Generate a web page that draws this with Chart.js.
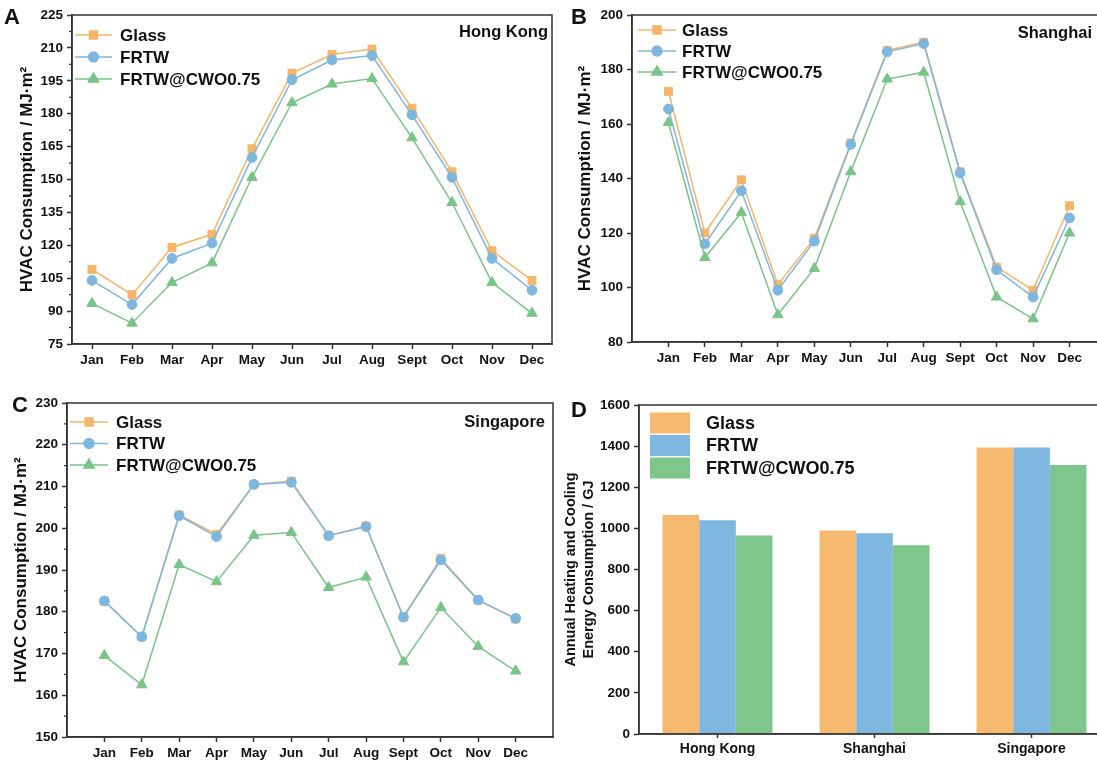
<!DOCTYPE html>
<html>
<head>
<meta charset="utf-8">
<script src="https://cdn.jsdelivr.net/npm/chart.js@4.4.1/dist/chart.umd.min.js"></script>
<style>
body{margin:0;background:#fff;width:1097px;height:763px;overflow:hidden;position:relative;font-family:"Liberation Sans",Arial,sans-serif;}
.panel{position:absolute;}
.lbl{position:absolute;font-weight:bold;font-size:22px;color:#111;line-height:1;}
</style>
</head>
<body>
<div class="panel" style="left:0;top:0;width:560px;height:380px"><canvas id="gA"></canvas></div>
<div class="panel" style="left:560px;top:0;width:560px;height:380px"><canvas id="gB"></canvas></div>
<div class="panel" style="left:0;top:380px;width:560px;height:383px"><canvas id="gC"></canvas></div>
<div class="panel" style="left:560px;top:380px;width:560px;height:383px"><canvas id="gD"></canvas></div>
<div class="lbl" style="left:4px;top:6px">A</div>
<div class="lbl" style="left:571px;top:6px">B</div>
<div class="lbl" style="left:12px;top:394px">C</div>
<div class="lbl" style="left:571px;top:399px">D</div>
<script>
// months / series
const months = ['Jan','Feb','Mar','Apr','May','Jun','Jul','Aug','Sept','Oct','Nov','Dec'];
const seriesNames = ['Glass','FRTW','FRTW@CWO0.75'];

const hkGlass = [109,97.5,119,125,164,198.5,207,209.5,182.5,153.5,117.5,104];
const hkFrtw  = [104,93,114,121,160,195.5,204.5,206.5,179.5,151,114,99.5];
const hkCwo   = [93.5,84.5,103,112,151,185,193.5,196,169,139.5,103,89];

const shGlass = [172,120,139.5,101,118,153,187,190,142.5,107.5,99,130];
const shFrtw  = [165.5,116,135.5,99,117,152.5,186.5,189.5,142,106.5,96.5,125.5];
const shCwo   = [160.5,111,127.5,90,107,142.5,176.5,179,131.5,96.5,88.5,120];

const sgGlass = [182.5,174,203.2,198.5,210.5,211.3,198.2,200.5,178.8,192.8,182.8,178.3];
const sgFrtw  = [182.6,174,203,198,210.5,211,198.2,200.4,178.7,192.4,182.8,178.4];
const sgCwo   = [169.5,162.5,191.3,187.2,198.3,199,185.8,188.3,168,181,171.7,165.8];

const cities = ['Hong Kong','Shanghai','Singapore'];
const annGlass = [1065,990,1393];
const annFrtw  = [1040,976,1393];
const annCwo   = [965,918,1308];

const orange = '#F7B56A', blue = '#7DB7E0', green = '#79C487';
const barOrange = '#F7B96F', barBlue = '#7EB8E0', barGreen = '#7FC68C';
const axisCol = '#333';
const FONT = '"Liberation Sans", Arial, sans-serif';

Chart.defaults.font.family = FONT;
Chart.defaults.color = '#111';
Chart.defaults.animation = false;

// frame round the plot area
const frame = {
  id: 'frame',
  afterDraw(chart) {
    const a = chart.chartArea, ctx = chart.ctx;
    ctx.save();
    ctx.strokeStyle = axisCol; ctx.lineWidth = 1.5;
    ctx.strokeRect(a.left, a.top, a.right - a.left, a.bottom - a.top);
    ctx.restore();
  }
};

const minorTicks = {
  id: 'minorTicks',
  afterDraw(chart, args, opts) {
    if (!opts.on) return;
    const s = chart.scales.y, ctx = chart.ctx;
    ctx.save();
    ctx.strokeStyle = axisCol; ctx.lineWidth = 1.2;
    for (let i = 0; i < s.ticks.length - 1; i++) {
      const y = s.getPixelForValue((s.ticks[i].value + s.ticks[i+1].value) / 2);
      ctx.beginPath(); ctx.moveTo(s.right - 3, y); ctx.lineTo(s.right, y); ctx.stroke();
    }
    ctx.restore();
  }
};

const insideLegend = {
  id: 'insideLegend',
  afterDraw(chart, args, o) {
    const ctx = chart.ctx, a = chart.chartArea;
    ctx.save();
    chart.data.datasets.forEach((ds, i) => {
      const y = a.top + o.top + i * o.gap;
      const x0 = a.left + o.left;
      if (o.box) {
        ctx.fillStyle = ds.backgroundColor;
        ctx.fillRect(x0, y - o.boxH / 2, o.boxW, o.boxH);
      } else {
        ctx.strokeStyle = ds.borderColor; ctx.lineWidth = 1.5;
        ctx.beginPath(); ctx.moveTo(x0, y); ctx.lineTo(x0 + o.len, y); ctx.stroke();
        ctx.fillStyle = ds.borderColor;
        Chart.helpers.drawPoint(ctx, {pointStyle: ds.pointStyle, radius: ds.pointRadius, borderWidth: 1, rotation: 0}, x0 + o.len / 2, y);
      }
      ctx.fillStyle = '#111';
      ctx.font = 'bold ' + o.size + 'px ' + FONT;
      ctx.textBaseline = 'middle'; ctx.textAlign = 'left';
      ctx.fillText(ds.label, x0 + o.textGap, y + 1);
    });
    ctx.restore();
  }
};

const cornerTitle = {
  id: 'cornerTitle',
  afterDraw(chart, args, o) {
    if (!o.text) return;
    const ctx = chart.ctx, a = chart.chartArea;
    ctx.save();
    ctx.fillStyle = '#111';
    ctx.font = 'bold ' + o.size + 'px ' + FONT;
    ctx.textAlign = 'right'; ctx.textBaseline = 'middle';
    ctx.fillText(o.text, a.right - o.right, a.top + o.top);
    ctx.restore();
  }
};

function lineSet(label, vals, col, style, r, order) {
  return {
    label: label,
    data: vals.map((v, i) => ({x: i + 1, y: v})),
    borderColor: col, backgroundColor: col,
    pointBackgroundColor: col, pointBorderColor: col,
    pointStyle: style, pointRadius: r, pointBorderWidth: 1,
    borderWidth: 1.5, order: order, clip: false
  };
}

function makeLine(id, g, f, c, cfg) {
  new Chart(document.getElementById(id), {
    type: 'line',
    data: {
      datasets: [
        lineSet(seriesNames[0], g, orange, 'rect', 5.6, 3),
        lineSet(seriesNames[1], f, blue, 'circle', 4.9, 2),
        lineSet(seriesNames[2], c, green, 'triangle', 6, 1)
      ]
    },
    options: {
      responsive: true, maintainAspectRatio: false,
      layout: {padding: cfg.pad},
      plugins: {
        legend: {display: false}, tooltip: {enabled: false},
        insideLegend: cfg.legend,
        cornerTitle: cfg.title,
        minorTicks: {on: cfg.minor}
      },
      scales: {
        x: {
          type: 'linear', min: cfg.xmin, max: cfg.xmax,
          afterBuildTicks: s => { s.ticks = months.map((m, i) => ({value: i + 1})); },
          afterFit: s => { s.height = cfg.xh; },
          ticks: {autoSkip: false, maxRotation: 0, padding: 3,
                  font: {size: 13.5, weight: 'bold'}, color: '#111',
                  callback: v => months[Math.round(v) - 1] || ''},
          grid: {drawOnChartArea: false, tickLength: 5, tickWidth: 1.5, tickColor: axisCol},
          border: {color: axisCol, width: 1.5}
        },
        y: {
          min: cfg.ymin, max: cfg.ymax,
          afterFit: s => { s.width = cfg.yw; },
          ticks: {stepSize: cfg.step, padding: 4, font: {size: 13.5, weight: 'bold'}, color: '#111'},
          grid: {drawOnChartArea: false, tickLength: 5, tickWidth: 1.5, tickColor: axisCol},
          border: {color: axisCol, width: 1.5},
          title: {display: true, text: 'HVAC Consumption / MJ·m²', font: {size: 17, weight: 'bold'},
                  color: '#111', padding: {top: cfg.titlePad, bottom: 0}}
        }
      }
    },
    plugins: [frame, minorTicks, insideLegend, cornerTitle]
  });
}

makeLine('gA', hkGlass, hkFrtw, hkCwo, {
  pad: {top: 15, right: 8, left: 0, bottom: 0}, xh: 36, yw: 72, titlePad: 17,
  xmin: 0.5, xmax: 12.5, ymin: 75, ymax: 225, step: 15, minor: true,
  legend: {left: 3, top: 20, gap: 22, len: 37, textGap: 45, size: 17},
  title: {text: 'Hong Kong', size: 16.5, right: 4, top: 17}
});

makeLine('gB', shGlass, shFrtw, shCwo, {
  pad: {top: 15, right: 14, left: 0, bottom: 0}, xh: 38, yw: 72, titlePad: 15,
  xmin: 0, xmax: 13, ymin: 80, ymax: 200, step: 20, minor: false,
  legend: {left: 6, top: 15, gap: 21, len: 38, textGap: 44, size: 17},
  title: {text: 'Shanghai', size: 16.5, right: 14, top: 18}
});

makeLine('gC', sgGlass, sgFrtw, sgCwo, {
  pad: {top: 23, right: 4, left: 0, bottom: 0}, xh: 26, yw: 67, titlePad: 11,
  xmin: 0, xmax: 13, ymin: 150, ymax: 230, step: 10, minor: true,
  legend: {left: 3, top: 19, gap: 21.5, len: 38, textGap: 46, size: 17},
  title: {text: 'Singapore', size: 16.5, right: 8, top: 19}
});

new Chart(document.getElementById('gD'), {
  type: 'bar',
  data: {
    labels: cities,
    datasets: [
      {label: seriesNames[0], data: annGlass, backgroundColor: barOrange},
      {label: seriesNames[1], data: annFrtw, backgroundColor: barBlue},
      {label: seriesNames[2], data: annCwo, backgroundColor: barGreen}
    ]
  },
  options: {
    responsive: true, maintainAspectRatio: false,
    layout: {padding: {top: 25, right: 10, left: 0, bottom: 0}},
    datasets: {bar: {categoryPercentage: 0.7, barPercentage: 1.0, borderWidth: 0}},
    plugins: {
      legend: {display: false}, tooltip: {enabled: false},
      insideLegend: {box: true, left: 11, top: 18, gap: 22.5, boxW: 40, boxH: 21, textGap: 56, size: 18},
      cornerTitle: {text: ''},
      minorTicks: {on: false}
    },
    scales: {
      x: {
        afterFit: s => { s.height = 29; },
        ticks: {padding: 3, font: {size: 14, weight: 'bold'}, color: '#111'},
        grid: {drawOnChartArea: false, offset: false, tickLength: 4, tickWidth: 1.5, tickColor: axisCol},
        border: {color: axisCol, width: 1.5}
      },
      y: {
        min: 0, max: 1600,
        afterFit: s => { s.width = 79; },
        ticks: {stepSize: 200, padding: 4, font: {size: 13.5, weight: 'bold'}, color: '#111',
                callback: v => String(v)},
        grid: {drawOnChartArea: false, tickLength: 5, tickWidth: 1.5, tickColor: axisCol},
        border: {color: axisCol, width: 1.5},
        title: {display: true, text: ['Annual Heating and Cooling', 'Energy Consumption / GJ'],
                font: {size: 14.5, weight: 'bold', lineHeight: 1.25}, color: '#111', padding: {top: 2, bottom: 0}}
      }
    }
  },
  plugins: [frame, insideLegend, cornerTitle]
});
</script>
</body>
</html>
